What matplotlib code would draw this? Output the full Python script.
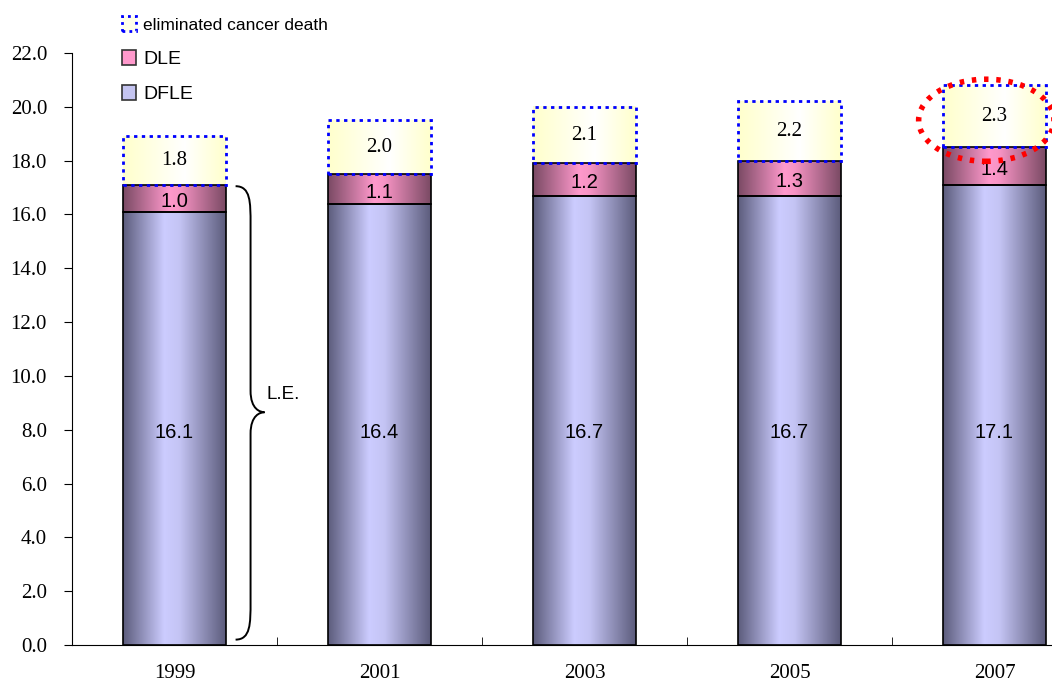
import matplotlib
matplotlib.use("Agg")
import matplotlib.pyplot as plt
import numpy as np
from matplotlib.colors import LinearSegmentedColormap
from matplotlib.patches import Rectangle, Ellipse, PathPatch
from matplotlib.path import Path

# data
anos = ['1999', '2001', '2003', '2005', '2007']
dfle = [16.1, 16.4, 16.7, 16.7, 17.1]
dle = [1.0, 1.1, 1.2, 1.3, 1.4]
eliminado = [1.8, 2.0, 2.1, 2.2, 2.3]
yticks = [0, 2, 4, 6, 8, 10, 12, 14, 16, 18, 20, 22]

serif = 'Liberation Serif'
sans = 'Liberation Sans'

fig = plt.figure(figsize=(10.52, 6.92), dpi=100)
ax = fig.add_axes([72/1052, 47/692, 1025/1052, 592/692])

cm_dfle = LinearSegmentedColormap.from_list('dfle', [(0, '#5c5c7c'), (0.4, '#ccccff'), (0.55, '#c4c4f4'), (1, '#5c5c7c')])
cm_dle = LinearSegmentedColormap.from_list('dle', [(0, '#7a4a64'), (0.45, '#ff99cc'), (0.55, '#f794c4'), (1, '#7a4a64')])
cm_elim = LinearSegmentedColormap.from_list('elim', [(0, '#ffffcc'), (0.6, '#ffffff'), (1, '#ffffcc')])
grad = np.linspace(0, 1, 256).reshape(1, -1)

ancho = 0.5
for i in range(len(anos)):
    x0 = i - ancho/2
    x1 = i + ancho/2
    base = 0
    for val, cmap in [(dfle[i], cm_dfle), (dle[i], cm_dle), (eliminado[i], cm_elim)]:
        ax.imshow(grad, cmap=cmap, extent=[x0, x1, base, base+val], aspect='auto', zorder=2, interpolation='bilinear')
        base += val
    # bordes
    ax.add_patch(Rectangle((x0, 0), ancho, dfle[i], fill=False, edgecolor='black', lw=1.2, zorder=3))
    ax.add_patch(Rectangle((x0, dfle[i]), ancho, dle[i], fill=False, edgecolor='black', lw=1.2, zorder=3))
    ax.add_patch(Rectangle((x0, dfle[i]+dle[i]), ancho, eliminado[i], fill=False, edgecolor='blue', lw=2, ls=(0, (1.2, 1.6)), zorder=4))
    # etiquetas
    ax.text(i, 7.9, f'{dfle[i]:.1f}', ha='center', va='center', fontsize=14.5, family=sans, zorder=5)
    ax.text(i, dfle[i]+dle[i]/2 - 0.12, f'{dle[i]:.1f}', ha='center', va='center', fontsize=14.5, family=sans, zorder=5)
    ax.text(i, dfle[i]+dle[i]+eliminado[i]/2, f'{eliminado[i]:.1f}', ha='center', va='center', fontsize=15, family=serif, zorder=5)

# llave L.E.
xt, xv, xp = 0.298, 0.371, 0.439
yt, yb, ym = 17.05, 0.2, 8.65
verts = [(xt, yt), (xv, yt), (xv, yt-0.6), (xv, yt-1.4),
         (xv, ym+0.8),
         (xv, ym+0.1), (xp-0.02, ym), (xp, ym),
         (xp-0.02, ym), (xv, ym-0.1), (xv, ym-0.8),
         (xv, yb+1.4),
         (xv, yb+0.6), (xv, yb), (xt, yb)]
codes = [Path.MOVETO, Path.CURVE4, Path.CURVE4, Path.CURVE4,
         Path.LINETO,
         Path.CURVE4, Path.CURVE4, Path.CURVE4,
         Path.CURVE4, Path.CURVE4, Path.CURVE4,
         Path.LINETO,
         Path.CURVE4, Path.CURVE4, Path.CURVE4]
ax.add_patch(PathPatch(Path(verts, codes), fill=False, lw=1.4, color='black', zorder=3))
ax.text(0.449, 9.3, 'L.E.', ha='left', va='center', fontsize=13.5, family=sans)

# elipse roja punteada
ax.add_patch(Ellipse((3.96, 19.5), 0.66, 3.05, fill=False, edgecolor='red', lw=4, ls=(0, (0.8, 1.4)), zorder=6))

ax.set_xlim(-0.5, 4.5)
ax.set_ylim(0, 22)
ax.set_yticks(yticks)
ax.set_yticklabels([f'{v:.1f}' for v in yticks], family=serif, fontsize=15)
ax.set_xticks(range(len(anos)))
ax.set_xticklabels(anos, family=serif, fontsize=15)
ax.set_xticks(np.arange(0.5, 4.5, 1), minor=True)
ax.tick_params(axis='x', which='major', length=0, pad=14)
ax.tick_params(axis='x', which='minor', direction='in', length=6)
ax.tick_params(axis='y', direction='out', length=6, pad=12)
ax.spines['top'].set_visible(False)
ax.spines['right'].set_visible(False)

# leyenda
h1 = Rectangle((0, 0), 1, 1, facecolor='#ffffe8', edgecolor='blue', lw=2, ls=(0, (1, 1.5)))
h2 = Rectangle((0, 0), 1, 1, facecolor='#ff99cc', edgecolor='#333333', lw=1.2)
h3 = Rectangle((0, 0), 1, 1, facecolor='#c4c4f0', edgecolor='#333333', lw=1.2)
leg = fig.legend([h1, h2, h3], ['eliminated cancer death', 'DLE', 'DFLE'], loc='upper left',
                 bbox_to_anchor=(104/1052, 1 + 2/692), frameon=False, handlelength=0.75, handleheight=0.85,
                 handletextpad=0.35, labelspacing=0.85, prop={'family': sans, 'size': 14})
leg.get_texts()[0].set_fontsize(12.5)

plt.savefig('out.png', dpi=100)
